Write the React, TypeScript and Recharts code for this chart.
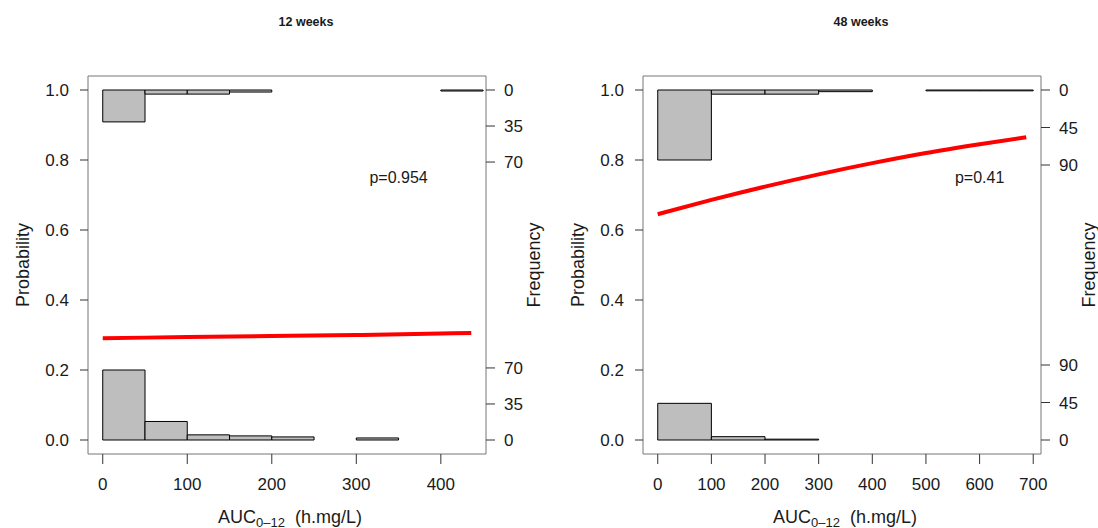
import React from 'react';
import { ComposedChart, Line, XAxis, YAxis, ReferenceArea, ReferenceDot } from 'recharts';

const FONT = '"Liberation Sans", Arial, Helvetica, sans-serif';

// 12 weeks
const auc12 = [0, 100, 200, 300, 400, 436];
const prob12 = [0.291, 0.294, 0.297, 0.3, 0.304, 0.306];
const bins12 = [0, 50, 100, 150, 200, 250, 300, 350, 400, 450];
const top12 = [31, 4, 4, 2, 0, 0, 0, 0, 1];
const bottom12 = [68, 18, 5, 4, 3, 0, 2, 0, 0];
const xTicks12 = [0, 100, 200, 300, 400];
const freqTicks12 = [0, 35, 70];

// 48 weeks
const auc48 = [0, 100, 200, 300, 400, 500, 600, 687];
const prob48 = [0.645, 0.686, 0.724, 0.759, 0.791, 0.82, 0.845, 0.865];
const bins48 = [0, 100, 200, 300, 400, 500, 600, 700];
const top48 = [84, 5, 5, 2, 0, 1, 1];
const bottom48 = [44, 4, 1, 0, 0, 0, 0];
const xTicks48 = [0, 100, 200, 300, 400, 500, 600, 700];
const freqTicks48 = [0, 45, 90];

const probTicks = [0, 0.2, 0.4, 0.6, 0.8, 1.0];

const TXT = '#1a1a1a';
const TICK = '#333';

type PanelProps = {
  left: number;
  title: string;
  xs: number[];
  ps: number[];
  bins: number[];
  top: number[];
  bottom: number[];
  xTicks: number[];
  freqTicks: number[];
  pText: string;
  pX: number;
  yAxisW: number;
  rightW: number;
};

const Panel = (props: PanelProps) => {
  const { left, title, xs, ps, bins, top, bottom, xTicks, freqTicks, pText, pX, yAxisW, rightW } = props;
  const W = 549;
  const H = 528;
  const xMax = xs[xs.length - 1];
  const xDom = [-0.04 * xMax, 1.04 * xMax];
  const yDom = [-0.04, 1.04];
  const data = xs.map((x, i) => ({ x, p: ps[i] }));
  // histogram height: tallest bar = 0.2 on the probability scale
  const k = 0.2 / Math.max(...top, ...bottom);
  const freqPos: { pos: number; label: string }[] = [];
  freqTicks.forEach((f) => freqPos.push({ pos: f * k, label: String(f) }));
  freqTicks.forEach((f) => freqPos.push({ pos: 1 - f * k, label: String(f) }));
  freqPos.sort((a, b) => a.pos - b.pos);
  const freqLabel = (v: number) => {
    let best = freqPos[0];
    freqPos.forEach((t) => {
      if (Math.abs(t.pos - v) < Math.abs(best.pos - v)) best = t;
    });
    return best.label;
  };
  const plotL = left + yAxisW;
  const plotR = left + W - rightW;
  const plotMid = (plotL + plotR) / 2;

  const tickStyle = { fontSize: 17, fill: TXT, fontFamily: FONT };

  return (
    <>
      <div style={{ position: 'absolute', left, top: 0 }}>
        <ComposedChart width={W} height={H} data={data} margin={{ top: 76, right: 0, bottom: 0, left: 0 }}>
          <XAxis
            dataKey="x"
            type="number"
            domain={xDom}
            ticks={xTicks}
            allowDataOverflow
            interval={0}
            height={74}
            axisLine={false}
            tickLine={{ stroke: TICK }}
            tickSize={10}
            tickMargin={14}
            tick={tickStyle}
          />
          <YAxis
            yAxisId="prob"
            type="number"
            domain={yDom}
            ticks={probTicks}
            allowDataOverflow
            interval={0}
            width={yAxisW}
            axisLine={false}
            tickLine={{ stroke: TICK }}
            tickSize={8}
            tickMargin={11}
            tickFormatter={(v: number) => v.toFixed(1)}
            tick={tickStyle}
          />
          <YAxis
            yAxisId="freq"
            orientation="right"
            type="number"
            domain={yDom}
            ticks={freqPos.map((t) => t.pos)}
            allowDataOverflow
            interval={0}
            width={rightW}
            axisLine={false}
            tickLine={{ stroke: TICK }}
            tickSize={9}
            tickMargin={9}
            tickFormatter={(v: number) => freqLabel(v)}
            tick={tickStyle}
          />
          <ReferenceArea
            yAxisId="prob"
            x1={xDom[0]}
            x2={xDom[1]}
            y1={yDom[0]}
            y2={yDom[1]}
            fill="none"
            fillOpacity={0}
            stroke="#777"
            strokeWidth={1}
            ifOverflow="visible"
          />
          {bottom.map((c, i) =>
            c > 0 ? (
              <ReferenceArea
                key={`b${i}`}
                yAxisId="prob"
                x1={bins[i]}
                x2={bins[i + 1]}
                y1={0}
                y2={c * k}
                fill="#bebebe"
                fillOpacity={1}
                stroke="#000"
                strokeWidth={1}
                ifOverflow="visible"
              />
            ) : null
          )}
          {top.map((c, i) =>
            c > 0 ? (
              <ReferenceArea
                key={`t${i}`}
                yAxisId="prob"
                x1={bins[i]}
                x2={bins[i + 1]}
                y1={1 - c * k}
                y2={1}
                fill="#bebebe"
                fillOpacity={1}
                stroke="#000"
                strokeWidth={1}
                ifOverflow="visible"
              />
            ) : null
          )}
          <Line
            yAxisId="prob"
            dataKey="p"
            type="monotone"
            stroke="#ff0000"
            strokeWidth={4}
            dot={false}
            activeDot={false}
            isAnimationActive={false}
          />
          <ReferenceDot
            yAxisId="prob"
            x={pX}
            y={0.75}
            r={0}
            fill="none"
            stroke="none"
            label={{ value: pText, position: 'center', fontSize: 16, fill: TXT, fontFamily: FONT }}
          />
        </ComposedChart>
      </div>
      <div
        style={{
          position: 'absolute',
          left: plotMid + 19,
          top: 22,
          transform: 'translate(-50%, -50%)',
          fontSize: 12.5,
          fontWeight: 'bold',
          color: TXT,
          fontFamily: FONT,
          whiteSpace: 'nowrap',
        }}
      >
        {title}
      </div>
      <div
        style={{
          position: 'absolute',
          left: plotL - 65,
          top: 265,
          transform: 'translate(-50%, -50%) rotate(-90deg)',
          fontSize: 18,
          color: TXT,
          fontFamily: FONT,
          whiteSpace: 'nowrap',
        }}
      >
        Probability
      </div>
      <div
        style={{
          position: 'absolute',
          left: plotR + 48,
          top: 265,
          transform: 'translate(-50%, -50%) rotate(-90deg)',
          fontSize: 18,
          color: TXT,
          fontFamily: FONT,
          whiteSpace: 'nowrap',
        }}
      >
        Frequency
      </div>
      <div
        style={{
          position: 'absolute',
          left: plotMid + 3,
          top: 517,
          transform: 'translate(-50%, -50%)',
          fontSize: 18,
          color: TXT,
          fontFamily: FONT,
          whiteSpace: 'nowrap',
        }}
      >
        AUC
        <span style={{ fontSize: 13, position: 'relative', top: 4 }}>0–12</span>
        {'\u00a0\u00a0(h.mg/L)'}
      </div>
    </>
  );
};

export default function App() {
  return (
    <div style={{ position: 'absolute', left: 0, top: 0, width: 1098, height: 528, background: '#fff', overflow: 'hidden' }}>
      <Panel
        left={0}
        title="12 weeks"
        xs={auc12}
        ps={prob12}
        bins={bins12}
        top={top12}
        bottom={bottom12}
        xTicks={xTicks12}
        freqTicks={freqTicks12}
        pText="p=0.954"
        pX={350}
        yAxisW={88}
        rightW={63}
      />
      <Panel
        left={549}
        title="48 weeks"
        xs={auc48}
        ps={prob48}
        bins={bins48}
        top={top48}
        bottom={bottom48}
        xTicks={xTicks48}
        freqTicks={freqTicks48}
        pText="p=0.41"
        pX={600}
        yAxisW={94}
        rightW={57}
      />
    </div>
  );
}
